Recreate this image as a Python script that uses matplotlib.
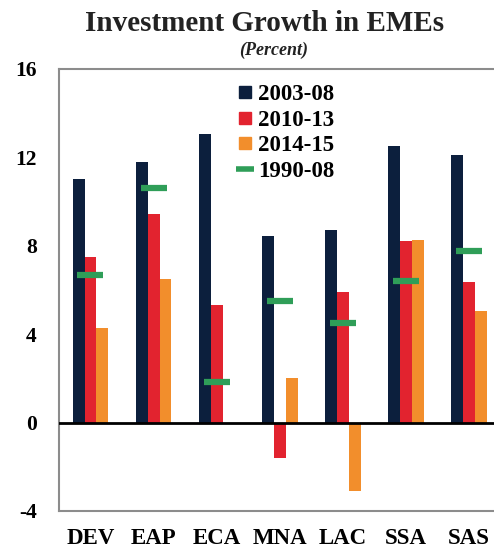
import numpy as np
import matplotlib.pyplot as plt
from matplotlib.lines import Line2D

# Investment growth by region, percent
regions = ["DEV", "EAP", "ECA", "MNA", "LAC", "SSA", "SAS"]
growth_0308 = [11.0, 11.8, 13.05, 8.45, 8.7, 12.5, 12.1]
growth_1013 = [7.5, 9.45, 5.3, -1.6, 5.9, 8.2, 6.35]
growth_1415 = [4.3, 6.5, 0.0, 2.0, -3.1, 8.25, 5.05]
growth_9008 = [6.7, 10.6, 1.85, 5.5, 4.5, 6.4, 7.75]
yticks = [-4, 0, 4, 8, 12, 16]

navy, red, orange, green = "#0c1f3d", "#e2232f", "#f28e2c", "#2f9e58"

plt.rcParams["font.family"] = ["Liberation Serif", "DejaVu Serif"]
plt.rcParams["font.weight"] = "bold"
plt.rcParams["axes.unicode_minus"] = False

fig = plt.figure(figsize=(4.94, 5.52), dpi=100)
ax = fig.add_axes([0.1194, 0.0743, 0.893, 0.8007])

x = np.arange(len(regions))
w = 0.19
ax.bar(x - w, growth_0308, w, color=navy, zorder=2)
ax.bar(x, growth_1013, w, color=red, zorder=2)
ax.bar(x + w, growth_1415, w, color=orange, zorder=2)
ax.plot(x, growth_9008, linestyle="none", marker="_", ms=19, mew=4.5,
        color=green, zorder=3)

ax.axhline(0, color="black", lw=2, zorder=4)

ax.set_xlim(-0.5, 6.5)
ax.set_ylim(-4, 16)
ax.set_yticks(yticks)
ax.set_yticklabels([str(t) for t in yticks])
ax.set_xticks(x)
ax.set_xticklabels(regions)
ax.tick_params(axis="y", length=0, pad=16, labelsize=15.5)
ax.tick_params(axis="x", length=0, pad=12, labelsize=16.5)

for side in ["top", "left", "bottom"]:
    ax.spines[side].set_color("#8c8c8c")
    ax.spines[side].set_linewidth(1.5)
ax.spines["right"].set_visible(False)

# legend: square swatches for bars, short dash for the long-run average
handles = [
    Line2D([], [], linestyle="none", marker="s", ms=9, color=navy),
    Line2D([], [], linestyle="none", marker="s", ms=9, color=red),
    Line2D([], [], linestyle="none", marker="s", ms=9, color=orange),
    Line2D([], [], linestyle="none", marker="_", ms=13, mew=4, color=green),
]
labels = ["2003-08", "2010-13", "2014-15", "1990-08"]
ax.legend(handles, labels, loc="upper left",
          bbox_to_anchor=(236 / 494, 1 - 84 / 552),
          bbox_transform=fig.transFigure, frameon=False, fontsize=16.5,
          handlelength=0.8, handletextpad=0.15, labelspacing=0.2,
          borderpad=0, borderaxespad=0)

fig.text(0.535, 0.958, "Investment Growth in EMEs", ha="center", va="center",
         fontsize=21, fontweight="bold", color="#222222")
fig.text(0.553, 0.909, "(Percent)", ha="center", va="center",
         fontsize=13, fontweight="bold", style="italic", color="#222222")

fig.savefig("out.png", dpi=100)
